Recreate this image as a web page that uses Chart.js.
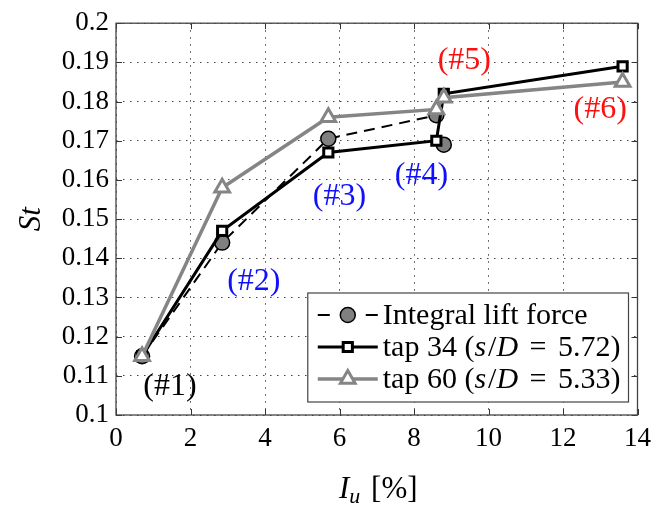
<!DOCTYPE html>
<html>
<head>
  <title>St vs Iu</title>
  <script src="https://cdn.jsdelivr.net/npm/chart.js"></script>
  <style>
    body { margin: 0; background: #fff; }
  </style>
</head>
<body>
  <canvas id="chart" width="659" height="506"></canvas>
  <script>
    // turbulence intensity of the six cases [%]
    const iu = [0.7, 2.85, 5.7, 8.6, 8.8, 13.6];
    // Strouhal numbers
    const stIntegral = [0.115, 0.144, 0.1705, 0.1765, 0.169, null];
    const stTap34 = [0.115, 0.147, 0.167, 0.170, 0.182, 0.189];
    const stTap60 = [0.115, 0.158, 0.176, 0.178, 0.181, 0.185];

    const xTicks = [0, 2, 4, 6, 8, 10, 12, 14];
    const yTicks = [0.1, 0.11, 0.12, 0.13, 0.14, 0.15, 0.16, 0.17, 0.18, 0.19, 0.2];

    // case tags written on the plot
    const caseLabels = [
      { text: '(#1)', x: 1.45, y: 0.1072, color: '#000000' },
      { text: '(#2)', x: 3.7, y: 0.1341, color: '#1010ff' },
      { text: '(#3)', x: 6.0, y: 0.1558, color: '#1010ff' },
      { text: '(#4)', x: 8.2, y: 0.1611, color: '#1010ff' },
      { text: '(#5)', x: 9.35, y: 0.1904, color: '#ff1010' },
      { text: '(#6)', x: 13.0, y: 0.1779, color: '#ff1010' }
    ];

    const serif = '"Liberation Serif", "DejaVu Serif", serif';

    function pts(ys) {
      return iu.map((x, i) => ({ x: x, y: ys[i] })).filter(p => p.y !== null);
    }

    const data = {
      datasets: [
        {
          label: 'tap 60 (s/D = 5.33)',
          data: pts(stTap60),
          borderColor: '#858585',
          borderWidth: 3.5,
          pointStyle: 'triangle',
          pointRadius: 8.5,
          pointBorderWidth: 3,
          pointBackgroundColor: '#ffffff',
          pointBorderColor: '#858585',
          order: 0
        },
        {
          label: 'tap 34 (s/D = 5.72)',
          data: pts(stTap34),
          borderColor: '#000000',
          borderWidth: 3,
          pointStyle: 'rect',
          pointRadius: 6.5,
          pointBorderWidth: 3,
          pointBackgroundColor: '#ffffff',
          pointBorderColor: '#000000',
          order: 1
        },
        {
          label: 'Integral lift force',
          data: pts(stIntegral),
          borderColor: '#000000',
          borderWidth: 2,
          borderDash: [11, 7],
          // the last two integral cases are not joined in the original
          segment: { borderColor: c => c.p0DataIndex === 3 ? 'rgba(0,0,0,0)' : undefined },
          pointStyle: 'circle',
          pointRadius: 7.5,
          pointBorderWidth: 1.5,
          pointBackgroundColor: '#808080',
          pointBorderColor: '#000000',
          order: 2
        }
      ]
    };

    // frame, inner ticks, case tags, axis titles and legend
    const decorations = {
      id: 'decorations',
      afterDraw(chart) {
        const ctx = chart.ctx;
        const a = chart.chartArea;
        const xs = chart.scales.x, ys = chart.scales.y;
        ctx.save();

        // inner tick marks
        ctx.strokeStyle = '#333';
        ctx.lineWidth = 1;
        ctx.beginPath();
        xTicks.forEach(v => {
          const px = Math.round(xs.getPixelForValue(v)) + 0.5;
          ctx.moveTo(px, a.bottom); ctx.lineTo(px, a.bottom - 6);
          ctx.moveTo(px, a.top); ctx.lineTo(px, a.top + 6);
        });
        yTicks.forEach(v => {
          const py = Math.round(ys.getPixelForValue(v)) + 0.5;
          ctx.moveTo(a.left, py); ctx.lineTo(a.left + 6, py);
          ctx.moveTo(a.right, py); ctx.lineTo(a.right - 6, py);
        });
        ctx.stroke();

        // frame
        ctx.strokeStyle = '#444';
        ctx.lineWidth = 1.3;
        ctx.strokeRect(a.left, a.top, a.right - a.left, a.bottom - a.top);

        // case tags
        ctx.font = '32px ' + serif;
        ctx.textAlign = 'center';
        ctx.textBaseline = 'middle';
        caseLabels.forEach(l => {
          ctx.fillStyle = l.color;
          ctx.fillText(l.text, xs.getPixelForValue(l.x), ys.getPixelForValue(l.y));
        });

        // y title
        ctx.fillStyle = '#000';
        ctx.save();
        ctx.translate(32, (a.top + a.bottom) / 2);
        ctx.rotate(-Math.PI / 2);
        ctx.font = 'italic 31px ' + serif;
        ctx.fillText('St', 0, 0);
        ctx.restore();

        // x title: I_u [%]
        const cx = (a.left + a.right) / 2;
        const ty = 490;
        ctx.textAlign = 'left';
        ctx.font = 'italic 31px ' + serif;
        const wI = ctx.measureText('I').width;
        ctx.font = 'italic 22px ' + serif;
        const wu = ctx.measureText('u').width;
        ctx.font = '31px ' + serif;
        const wr = ctx.measureText(' [%]').width;
        let x0 = cx - (wI + wu + wr) / 2;
        ctx.font = 'italic 31px ' + serif;
        ctx.fillText('I', x0, ty);
        ctx.font = 'italic 22px ' + serif;
        ctx.fillText('u', x0 + wI, ty + 7);
        ctx.font = '31px ' + serif;
        ctx.fillText(' [%]', x0 + wI + wu + 3, ty);

        // legend
        const dsOrder = [2, 1, 0];
        const fs = 30;
        const rowH = 32;
        const sample = 60;
        const texts = dsOrder.map(i => chart.data.datasets[i].label);
        function drawRich(t, x, y, measureOnly) {
          // italic s and D, wider spacing round "=" as in math mode
          const parts = t.split(/(s(?=\/)|D(?= )|=)/);
          let w = 0;
          parts.forEach(p => {
            const it = p === 's' || p === 'D';
            const pad = p === '=' ? 4 : 0;
            ctx.font = (it ? 'italic ' : '') + fs + 'px ' + serif;
            if (!measureOnly) ctx.fillText(p, x + w + pad, y);
            w += ctx.measureText(p).width + 2 * pad + (p === 's' ? 2 : 0);
          });
          return w;
        }
        ctx.textBaseline = 'middle';
        const maxW = Math.max(...texts.map(t => drawRich(t, 0, 0, true)));
        const boxW = 10 + sample + 5 + maxW + 8;
        const boxH = rowH * 3 + 13;
        const bx = a.right - 9 - boxW;
        const by = a.bottom - 13 - boxH;
        ctx.fillStyle = '#fff';
        ctx.fillRect(bx, by, boxW, boxH);
        ctx.strokeStyle = '#444';
        ctx.lineWidth = 1.2;
        ctx.strokeRect(bx, by, boxW, boxH);
        dsOrder.forEach((di, r) => {
          const ds = chart.data.datasets[di];
          const y = by + 6 + rowH * r + rowH / 2;
          const lx = bx + 10;
          ctx.save();
          ctx.strokeStyle = ds.borderColor;
          ctx.lineWidth = ds.borderWidth;
          ctx.beginPath();
          if (ds.borderDash) {
            ctx.moveTo(lx, y); ctx.lineTo(lx + 12, y);
            ctx.moveTo(lx + sample - 12, y); ctx.lineTo(lx + sample, y);
          } else {
            ctx.moveTo(lx, y); ctx.lineTo(lx + sample, y);
          }
          ctx.stroke();
          ctx.fillStyle = ds.pointBackgroundColor;
          ctx.strokeStyle = ds.pointBorderColor;
          ctx.lineWidth = ds.pointBorderWidth;
          Chart.helpers.drawPoint(ctx, {
            pointStyle: ds.pointStyle,
            radius: ds.pointRadius,
            borderWidth: ds.pointBorderWidth
          }, lx + sample / 2, y);
          ctx.restore();
          ctx.fillStyle = '#000';
          ctx.textAlign = 'left';
          drawRich(texts[r], lx + sample + 5, y + 1, false);
        });

        ctx.restore();
      }
    };

    const config = {
      type: 'line',
      data: data,
      options: {
        responsive: false,
        animation: false,
        layout: { padding: { left: 0, right: 18, top: 17, bottom: 0 } },
        plugins: {
          legend: { display: false },
          tooltip: { enabled: false }
        },
        scales: {
          x: {
            type: 'linear',
            min: 0,
            max: 14,
            afterBuildTicks: s => { s.ticks = xTicks.map(v => ({ value: v })); },
            afterFit: s => { s.height = 91; },
            grid: { color: '#444', lineWidth: 1, drawTicks: false },
            border: { display: false, dash: [1.5, 5.5] },
            ticks: {
              color: '#000',
              padding: 8,
              font: { family: serif, size: 27 },
              maxRotation: 0
            }
          },
          y: {
            type: 'linear',
            min: 0.1,
            max: 0.2,
            afterBuildTicks: s => { s.ticks = yTicks.map(v => ({ value: v })); },
            afterFit: s => { s.width = 116; },
            grid: { color: '#444', lineWidth: 1, drawTicks: false },
            border: { display: false, dash: [1.5, 5.5] },
            ticks: {
              color: '#000',
              padding: 7,
              font: { family: serif, size: 27 },
              callback: v => String(Number(v.toFixed(2)))
            }
          }
        }
      },
      plugins: [decorations]
    };

    const chart = new Chart(document.getElementById('chart'), config);
  </script>
</body>
</html>
